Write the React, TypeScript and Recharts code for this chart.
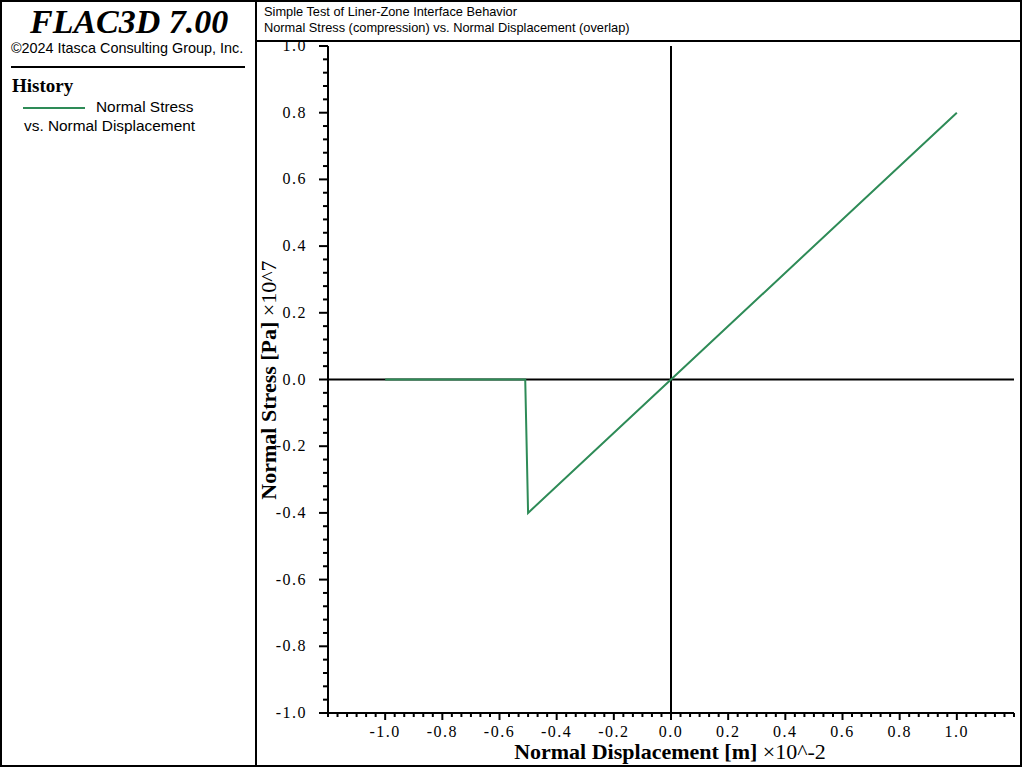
import { Line, LineChart, ReferenceLine, XAxis, YAxis } from "recharts";

// history: normal displacement (x10^-2 m) vs normal stress (x10^7 Pa)
const displacement = [-1.0, -0.51, -0.5, 0.0, 1.0];
const normalStress = [0.0, 0.0, -0.4, 0.0, 0.8];

const xDomain: [number, number] = [-1.2, 1.2];
const yDomain: [number, number] = [-1.0, 1.0];
const xLabelTicks = [-1.0, -0.8, -0.6, -0.4, -0.2, 0.0, 0.2, 0.4, 0.6, 0.8, 1.0];
const yLabelTicks = [-1.0, -0.8, -0.6, -0.4, -0.2, 0.0, 0.2, 0.4, 0.6, 0.8, 1.0];
const xMinorPerMajor = 6;
const yMinorPerMajor = 5;

const data = displacement.map((x, i) => ({ x, stress: normalStress[i] }));

const clean = (v: number) => {
  const r = Math.round(v * 10000) / 10000;
  return Math.abs(r) < 1e-9 ? 0 : r;
};

function buildTicks(domain: [number, number], parts: number): number[] {
  const step = 0.2 / parts;
  const out: number[] = [];
  const n = Math.round((domain[1] - domain[0]) / step);
  for (let i = 0; i <= n; i++) out.push(clean(domain[0] + i * step));
  return out;
}

const isLabelled = (v: number, labels: number[]) =>
  labels.some((l) => Math.abs(l - v) < 1e-6);

const fmt = (v: number) => clean(v).toFixed(1);

const SERIF = '"Liberation Serif", "Times New Roman", serif';
const SANS = '"Liberation Sans", Arial, sans-serif';

function XTick(props: any) {
  const { x, y, payload } = props;
  const major = isLabelled(payload.value, xLabelTicks);
  return (
    <g>
      <line x1={x} x2={x} y1={y} y2={y + (major ? 7 : 4)} stroke="#000" strokeWidth={2} />
      {major && (
        <text
          x={x}
          y={y + 24}
          textAnchor="middle"
          fontFamily={SERIF}
          fontSize={16}
          letterSpacing={1.5}
          fill="#000"
        >
          {fmt(payload.value)}
        </text>
      )}
    </g>
  );
}

function YTick(props: any) {
  const { x, y, payload } = props;
  const major = isLabelled(payload.value, yLabelTicks);
  return (
    <g>
      <line x1={x} x2={x - (major ? 9 : 5)} y1={y} y2={y} stroke="#000" strokeWidth={2} />
      {major && (
        <text
          x={x - 21}
          y={y + 5}
          textAnchor="end"
          fontFamily={SERIF}
          fontSize={16}
          letterSpacing={1.5}
          fill="#000"
        >
          {fmt(payload.value)}
        </text>
      )}
    </g>
  );
}

const abs = (s: React.CSSProperties): React.CSSProperties => ({ position: "absolute", ...s });

export default function App() {
  return (
    <div style={abs({ left: 0, top: 0, width: 1024, height: 768, background: "#fff" })}>
      <LineChart
        width={1024}
        height={768}
        data={data}
        margin={{ top: 46, right: 10, bottom: 25, left: 268 }}
      >
        <XAxis
          type="number"
          dataKey="x"
          domain={xDomain}
          ticks={buildTicks(xDomain, xMinorPerMajor)}
          interval={0}
          height={30}
          tickSize={0}
          tickMargin={0}
          tickLine={false}
          tick={<XTick />}
          axisLine={{ stroke: "#000", strokeWidth: 2 }}
          allowDataOverflow
        />
        <YAxis
          type="number"
          domain={yDomain}
          ticks={buildTicks(yDomain, yMinorPerMajor)}
          interval={0}
          width={60}
          tickSize={0}
          tickMargin={0}
          tickLine={false}
          tick={<YTick />}
          axisLine={{ stroke: "#000", strokeWidth: 2 }}
          allowDataOverflow
        />
        <ReferenceLine x={0} stroke="#000" strokeWidth={2} />
        <ReferenceLine y={0} stroke="#000" strokeWidth={2} />
        <Line
          type="linear"
          dataKey="stress"
          stroke="#2e8b57"
          strokeWidth={2}
          dot={false}
          isAnimationActive={false}
        />
      </LineChart>

      {/* frame */}
      <div style={abs({ left: 0, top: 0, width: 1022, height: 767, border: "2px solid #000", boxSizing: "border-box", pointerEvents: "none" })} />
      <div style={abs({ left: 255, top: 0, width: 2, height: 767, background: "#000" })} />
      <div style={abs({ left: 256, top: 40, width: 766, height: 2, background: "#000" })} />
      <div style={abs({ left: 11, top: 66, width: 234, height: 2, background: "#000" })} />

      {/* left panel */}
      <div style={abs({ left: 30, top: 2, fontFamily: SERIF, fontStyle: "italic", fontWeight: "bold", fontSize: 34, lineHeight: "40px", whiteSpace: "nowrap" })}>
        FLAC3D 7.00
      </div>
      <div style={abs({ left: 11, top: 40, fontFamily: SANS, fontSize: 14.4, lineHeight: "16px", whiteSpace: "nowrap" })}>
        ©2024 Itasca Consulting Group, Inc.
      </div>
      <div style={abs({ left: 12, top: 75, fontFamily: SERIF, fontWeight: "bold", fontSize: 19, lineHeight: "22px" })}>
        History
      </div>
      <div style={abs({ left: 23, top: 107, width: 62, height: 2, background: "#2e8b57" })} />
      <div style={abs({ left: 96, top: 98, fontFamily: SANS, fontSize: 15.4, lineHeight: "18px", whiteSpace: "nowrap" })}>
        Normal Stress
      </div>
      <div style={abs({ left: 24, top: 117, fontFamily: SANS, fontSize: 15.4, lineHeight: "18px", whiteSpace: "nowrap" })}>
        vs. Normal Displacement
      </div>

      {/* plot title */}
      <div style={abs({ left: 264, top: 4, fontFamily: SANS, fontSize: 12.8, lineHeight: "15.5px", whiteSpace: "nowrap" })}>
        Simple Test of Liner-Zone Interface Behavior
        <br />
        Normal Stress (compression) vs. Normal Displacement (overlap)
      </div>

      {/* axis titles */}
      <div style={abs({ left: 470, top: 739, width: 400, textAlign: "center", fontFamily: SERIF, fontSize: 22, lineHeight: "26px", whiteSpace: "nowrap" })}>
        <b>Normal Displacement [m]</b> ×10^-2
      </div>
      <div
        style={abs({
          left: 69,
          top: 367,
          width: 400,
          textAlign: "center",
          fontFamily: SERIF,
          fontSize: 22,
          lineHeight: "26px",
          whiteSpace: "nowrap",
          transform: "rotate(-90deg)",
        })}
      >
        <b>Normal Stress [Pa]</b> ×10^7
      </div>
    </div>
  );
}
